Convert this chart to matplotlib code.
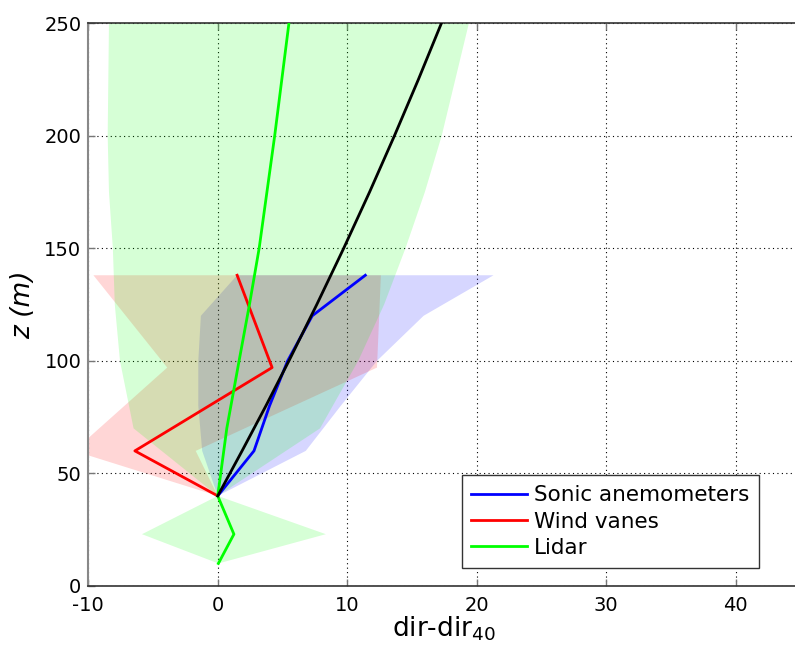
import matplotlib
matplotlib.use("Agg")
import matplotlib.pyplot as plt
import numpy as np

# ---- data ----
sonic_z = [40, 60, 80, 100, 120, 138]
sonic_mean = [0, 2.8, 4.0, 5.4, 7.3, 11.4]
sonic_std = [0, 4.0, 5.5, 6.9, 8.6, 9.9]

vane_z = [40, 60, 97, 138]
vane_mean = [0, -6.4, 4.2, 1.5]
vane_std = [0, 4.7, 8.1, 11.1]

lidar_z = [10, 23, 40, 70, 100, 125, 150, 175, 200, 225, 250]
lidar_mean = [0.05, 1.25, 0, 0.7, 1.65, 2.45, 3.2, 3.8, 4.4, 4.95, 5.5]
lidar_std = [0, 7.1, 0, 7.2, 9.2, 10.4, 11.3, 12.2, 12.9, 13.4, 13.9]

model_z = [40, 60, 80, 100, 125, 150, 175, 200, 225, 250]
model_x = [0, 1.88, 3.72, 5.50, 7.65, 9.73, 11.73, 13.65, 15.50, 17.28]

xticks = [-10, 0, 10, 20, 30, 40]
yticks = [0, 50, 100, 150, 200, 250]

plt.rcParams['font.family'] = ['DejaVu Sans']
plt.rcParams['axes.unicode_minus'] = False

fig = plt.figure(figsize=(7.95, 6.5), dpi=100)
ax = fig.add_axes([0.1110, 0.0985, 0.8958, 0.866])


def band(z, m, s, color):
    z = np.asarray(z, float)
    m = np.asarray(m, float)
    s = np.asarray(s, float)
    xs = np.concatenate([m - s, (m + s)[::-1]])
    zs = np.concatenate([z, z[::-1]])
    ax.fill(xs, zs, color=color, alpha=0.16, lw=0, zorder=1)


band(sonic_z, sonic_mean, sonic_std, (0, 0, 1))
band(vane_z, vane_mean, vane_std, (1, 0, 0))
band(lidar_z, lidar_mean, lidar_std, (0, 1, 0))

l1, = ax.plot(sonic_mean, sonic_z, color=(0, 0, 1), lw=2, zorder=3, label='Sonic anemometers')
l2, = ax.plot(vane_mean, vane_z, color=(1, 0, 0), lw=2, zorder=3, label='Wind vanes')
l3, = ax.plot(lidar_mean, lidar_z, color=(0, 1, 0), lw=2, zorder=4, label='Lidar')
ax.plot(model_x, model_z, color='black', lw=2, zorder=5)

ax.set_xlim(-10, 45)
ax.set_ylim(0, 250)
ax.set_xticks(xticks)
ax.set_yticks(yticks)
ax.tick_params(direction='in', top=True, right=False, length=5, width=1,
               color='#777777', labelsize=14)
ax.tick_params(axis='x', pad=7)
ax.tick_params(axis='y', pad=5)
ax.grid(True, color='black', linestyle=(0, (1, 3)), linewidth=0.8, zorder=0)
ax.set_axisbelow(True)

for side in ['top', 'bottom']:
    ax.spines[side].set_color('#333333')
    ax.spines[side].set_linewidth(1.2)
ax.spines['left'].set_color('#888888')
ax.spines['left'].set_linewidth(1.5)
ax.spines['right'].set_visible(False)

ax.set_xlabel('dir-dir$_{40}$', fontsize=19, labelpad=0)
ax.set_ylabel('z (m)', fontsize=19, fontstyle='italic', labelpad=6)

leg = ax.legend(handles=[l1, l2, l3], loc='lower left',
                bbox_to_anchor=(0.5243, 0.0325), borderaxespad=0,
                fontsize=15.5, fancybox=False, framealpha=1,
                edgecolor='#333333', handlelength=2.6, handletextpad=0.3,
                labelspacing=0.3, borderpad=0.45)
leg.get_frame().set_linewidth(1.0)
leg.set_zorder(10)

fig.savefig('out.png', dpi=100)
